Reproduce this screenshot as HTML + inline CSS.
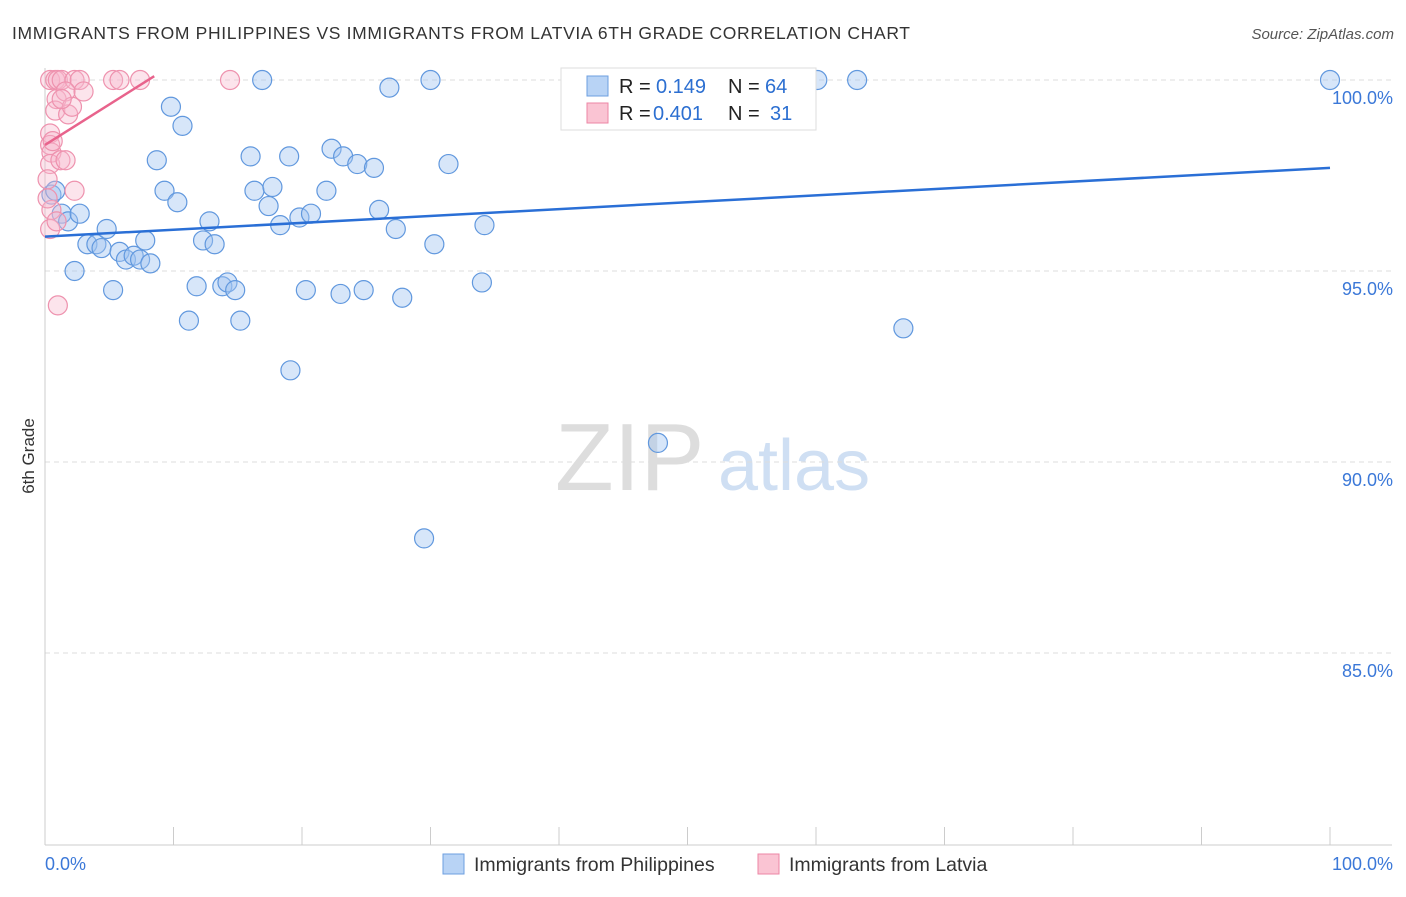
<!DOCTYPE html>
<html><head><meta charset="utf-8"><style>
body{margin:0;background:#fff;font-family:"Liberation Sans",sans-serif}
text{font-family:"Liberation Sans",sans-serif}
</style></head><body>
<svg id="chart" width="1406" height="892">
<text x="12" y="39" font-size="17.5" fill="#333" textLength="898">IMMIGRANTS FROM PHILIPPINES VS IMMIGRANTS FROM LATVIA 6TH GRADE CORRELATION CHART</text>
<text x="1394" y="39" font-size="15" fill="#555" font-style="italic" text-anchor="end">Source: ZipAtlas.com</text>
<text transform="translate(34,456) rotate(-90)" font-size="17" fill="#333" text-anchor="middle">6th Grade</text>
<text x="555" y="490" font-size="96" fill="#ddd" font-family="Liberation Serif">ZIP</text>
<text x="718" y="490" font-size="72" fill="#cfdff3">atlas</text>
<g id="grid"></g><g id="axes"></g><g id="pts"></g><g id="lines"></g>
<g>
<rect x="561" y="68" width="255" height="62" fill="#fff" stroke="#ddd"/>
<rect x="587" y="76" width="21" height="20" fill="#b8d3f5" stroke="#6d9fe0"/>
<rect x="587" y="103" width="21" height="20" fill="#fac4d3" stroke="#ec86a5"/>
<text x="619" y="93" font-size="20" fill="#222">R =</text>
<text x="656" y="93" font-size="20" fill="#2c6fd1">0.149</text>
<text x="728" y="93" font-size="20" fill="#222">N =</text>
<text x="765" y="93" font-size="20" fill="#2c6fd1">64</text>
<text x="619" y="120" font-size="20" fill="#222">R =</text>
<text x="653" y="120" font-size="20" fill="#2c6fd1">0.401</text>
<text x="728" y="120" font-size="20" fill="#222">N =</text>
<text x="770" y="120" font-size="20" fill="#2c6fd1">31</text>
</g>
<g>
<rect x="443" y="854" width="21" height="20" fill="#b8d3f5" stroke="#6d9fe0"/>
<text x="474" y="871" font-size="19.5" fill="#333">Immigrants from Philippines</text>
<rect x="758" y="854" width="21" height="20" fill="#fac4d3" stroke="#ec86a5"/>
<text x="789" y="871" font-size="19.5" fill="#333">Immigrants from Latvia</text>
</g>
<text x="45" y="870" font-size="18" fill="#3b78d8">0.0%</text>
<text x="1393" y="870" font-size="18" fill="#3b78d8" text-anchor="end">100.0%</text>
</svg>
<script>
const yTicks=[100,95,90,85];
const blueX=[0.5,0.8,1.3,1.8,2.7,2.3,3.3,4.0,4.4,4.8,5.3,5.8,6.3,6.9,7.4,7.8,8.2,8.7,9.3,9.8,10.3,10.7,11.2,11.8,12.3,12.8,13.2,13.8,14.2,14.8,15.2,16.0,16.3,16.9,17.4,17.7,18.3,19.0,19.1,19.8,20.3,20.7,21.9,22.3,23.0,23.2,24.3,24.8,25.6,26.0,26.8,27.3,27.8,29.5,30.0,30.3,31.4,34.0,34.2,47.7,60.1,63.2,66.8,100.0];
const blueY=[97.0,97.1,96.5,96.3,96.5,95.0,95.7,95.7,95.6,96.1,94.5,95.5,95.3,95.4,95.3,95.8,95.2,97.9,97.1,99.3,96.8,98.8,93.7,94.6,95.8,96.3,95.7,94.6,94.7,94.5,93.7,98.0,97.1,100.0,96.7,97.2,96.2,98.0,92.4,96.4,94.5,96.5,97.1,98.2,94.4,98.0,97.8,94.5,97.7,96.6,99.8,96.1,94.3,88.0,100.0,95.7,97.8,94.7,96.2,90.5,100.0,100.0,93.5,100.0];
const pinkX=[0.4,0.8,1.0,1.3,2.3,2.7,5.3,5.8,7.4,14.4,0.9,1.6,3.0,0.8,1.8,2.1,1.3,0.4,0.4,0.5,0.4,1.2,1.6,2.3,0.5,0.4,0.9,1.0,0.6,0.2,0.2];
const pinkY=[100.0,100.0,100.0,100.0,100.0,100.0,100.0,100.0,100.0,100.0,99.5,99.7,99.7,99.2,99.1,99.3,99.5,98.6,98.3,98.1,97.8,97.9,97.9,97.1,96.6,96.1,96.3,94.1,98.4,97.4,96.9];
const blueTrend=[[0,95.9],[100,97.7]];
const pinkTrend=[[0,98.3],[8.5,100.1]];
const sx=v=>45+v*12.85, sy=v=>80+(100-v)*38.2;
const NS='http://www.w3.org/2000/svg';
function mk(p,t,a){const e=document.createElementNS(NS,t);for(const k in a)e.setAttribute(k,a[k]);p.appendChild(e);return e;}
const grid=document.getElementById('grid'),axes=document.getElementById('axes'),pts=document.getElementById('pts'),lines=document.getElementById('lines');
yTicks.forEach(t=>{
 const l=mk(grid,'line',{x1:45,x2:1392,y1:sy(t),y2:sy(t),stroke:'#ddd','stroke-dasharray':'5,4'});
 
 
 const tx=mk(grid,'text',{x:1393,y:sy(t)+24,'font-size':18,fill:'#3b78d8','text-anchor':'end'});
 tx.textContent=t.toFixed(1)+'%';
 
 
});
mk(axes,'line',{x1:45,x2:45,y1:68,y2:845,stroke:'#ccc'});
mk(axes,'line',{x1:45,x2:1392,y1:845,y2:845,stroke:'#ccc'});
for(let i=0;i<=10;i++){const x=sx(i*10);const t=mk(axes,'line',{x1:x,x2:x,y1:827,y2:845,stroke:'#ccc'});
 
 }
blueX.forEach((v,i)=>{const c=mk(pts,'circle',{cx:sx(v),cy:sy(blueY[i]),r:9.5,fill:'rgba(160,196,240,0.42)',stroke:'#6198de','stroke-width':1.2});
 
 });
pinkX.forEach((v,i)=>{const c=mk(pts,'circle',{cx:sx(v),cy:sy(pinkY[i]),r:9.5,fill:'rgba(248,184,204,0.38)',stroke:'#ee92ae','stroke-width':1.2});
 
 });
const bl=mk(lines,'line',{x1:sx(blueTrend[0][0]),y1:sy(blueTrend[0][1]),x2:sx(blueTrend[1][0]),y2:sy(blueTrend[1][1]),stroke:'#2a6fd6','stroke-width':2.5});


const pl=mk(lines,'line',{x1:sx(pinkTrend[0][0]),y1:sy(pinkTrend[0][1]),x2:sx(pinkTrend[1][0]),y2:sy(pinkTrend[1][1]),stroke:'#e8638c','stroke-width':2.5});


</script>
</body></html>
